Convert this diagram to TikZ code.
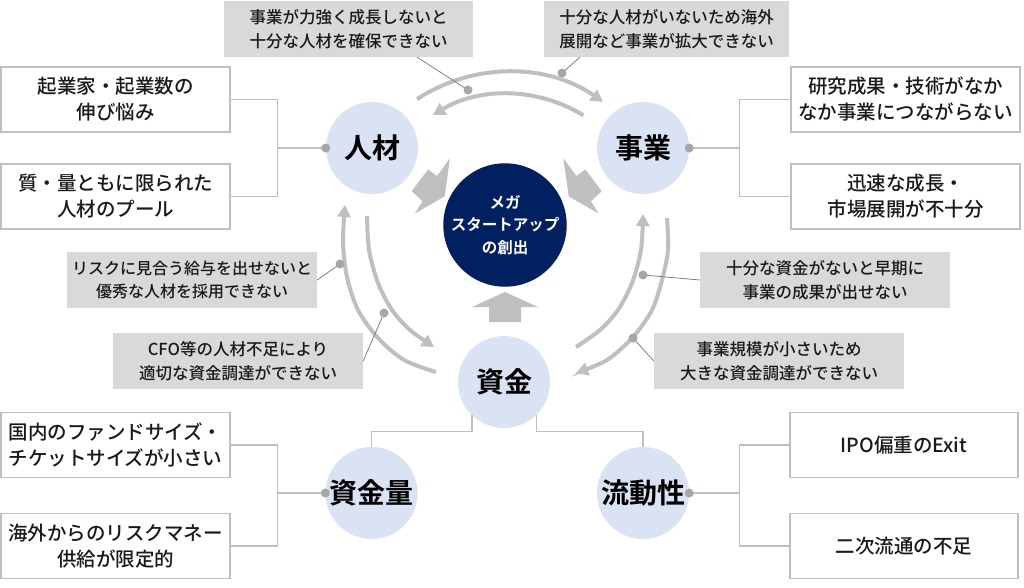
\documentclass[tikz,border=0pt]{standalone}
\usepackage{fontspec}
\setmainfont{Noto Sans CJK JP}[UprightFont=* Medium, BoldFont=* Bold]
\usetikzlibrary{arrows.meta,calc}
\definecolor{lb}{HTML}{DAE3F3}
\definecolor{navy}{HTML}{002060}
\definecolor{gbox}{HTML}{D9D9D9}
\definecolor{garrow}{HTML}{BFBFBF}
\definecolor{dotc}{HTML}{A6A6A6}
\definecolor{brk}{HTML}{BFBFBF}
\definecolor{ldr}{HTML}{808080}
\definecolor{txt}{HTML}{1A1A1A}
\tikzset{
  wbox/.style={draw=brk, line width=1.2pt, fill=white, minimum width=229pt, minimum height=65pt,
    inner sep=0pt, align=center, font=\fontsize{19.5}{26}\selectfont, text=txt},
  gbx/.style={fill=gbox, minimum width=250pt, minimum height=56pt, inner sep=0pt,
    align=center, font=\fontsize{16.5}{23.5}\selectfont, text=txt},
  circ/.style={circle, fill=lb, minimum size=92pt, inner sep=0pt,
    font=\fontsize{28}{30}\selectfont\bfseries, text=black},
  bracket/.style={draw=brk, line width=1.2pt},
  leader/.style={draw=ldr, line width=0.8pt},
  garc/.style={draw=garrow, line width=4pt, -{Triangle[width=13pt,length=12pt]}},
}
\begin{document}
\begin{tikzpicture}[x=1pt,y=-1pt]
\useasboundingbox (0,0) rectangle (1024,587);
\fill[white] (0,0) rectangle (1024,587);

% circles
\node[circ] (jinzai) at (372,148) {人材};
\node[circ] (jigyo) at (643,148) {事業};
\node[circ] (shikin) at (504,382) {資金};
\node[circ] (zkr) at (371.5,493) {資金量};
\node[circ] (ryu) at (643,493) {流動性};
\node[circle, fill=navy, minimum size=114pt, inner sep=0pt, text=white, align=center,
  font=\fontsize{15.5}{22.5}\selectfont\bfseries] (mega) at (505,225) {メガ\\スタートアップ\\の創出};

% white boxes
\node[wbox] (j1) at (115.5,99.5) {起業家・起業数の\\伸び悩み};
\node[wbox] (j2) at (115.5,196.5) {質・量ともに限られた\\人材のプール};
\node[wbox] (g1) at (905.5,99.5) {研究成果・技術がなか\\なか事業につながらない};
\node[wbox] (g2) at (905.5,196.5) {迅速な成長・\\市場展開が不十分};
\node[wbox] (z1) at (115.5,445) {国内のファンドサイズ・\\チケットサイズが小さい};
\node[wbox] (z2) at (115.5,546) {海外からのリスクマネー\\供給が限定的};
\node[wbox, minimum width=228pt] (r1) at (904,445) {IPO偏重のExit};
\node[wbox, minimum width=228pt] (r2) at (904,546) {二次流通の不足};

% grey label boxes
\node[gbx, minimum width=249pt] (t1) at (348.5,29) {事業が力強く成長しないと\\十分な人材を確保できない};
\node[gbx, minimum width=245pt] (t2) at (666.5,29) {十分な人材がいないため海外\\展開など事業が拡大できない};
\node[gbx, font=\fontsize{16}{23.5}\selectfont] (s1) at (192,280) {リスクに見合う給与を出せないと\\優秀な人材を採用できない};
\node[gbx] (s2) at (238,361) {CFO等の人材不足により\\適切な資金調達ができない};
\node[gbx] (s3) at (825,280) {十分な資金がないと早期に\\事業の成果が出せない};
\node[gbx] (s4) at (779,361) {事業規模が小さいため\\大きな資金調達ができない};

% brackets
\draw[bracket] (j1.east) -| ([xshift=-48pt]jinzai.west) |- (j2.east);
\draw[bracket] ([xshift=-48pt]jinzai.west) -- (jinzai.west);
\draw[bracket] (g1.west) -| ([xshift=50pt]jigyo.east) |- (g2.west);
\draw[bracket] ([xshift=50pt]jigyo.east) -- (jigyo.east);
\draw[bracket] (z1.east) -| ([xshift=-47.5pt]zkr.west) |- (z2.east);
\draw[bracket] ([xshift=-47.5pt]zkr.west) -- (zkr.west);
\draw[bracket] (r1.west) -| ([xshift=50pt]ryu.east) |- (r2.west);
\draw[bracket] ([xshift=50pt]ryu.east) -- (ryu.east);
\draw[bracket] (shikin.-134) -- ++(0,16) -| (zkr.north);
\draw[bracket] (shikin.-46) -- ++(0,16) -| (ryu.north);

% block arrows
\fill[garrow] (450,158.3) -- (444.7,196.3) -- (414.7,213.6) -- (422.5,201.2) -- (411.7,191.2) -- (428,169.5) -- (437,176) -- cycle;
\fill[garrow] (563.4,158.3) -- (568.7,196.3) -- (598.7,213.6) -- (590.9,201.2) -- (601.7,191.2) -- (585.4,169.5) -- (576.4,176) -- cycle;
\fill[garrow] (489,322) -- (489,307) -- (472,307) -- (505,292) -- (538,307) -- (521,307) -- (521,322) -- cycle;

% cycle arcs
\coordinate (ct) at (508,238);
\draw[garc] ($(ct)+(-123.2:166)$) arc[start angle=-123.2, end angle=-55.1, radius=166];
\draw[garc] ($(ct)+(-58.4:144)$) arc[start angle=-58.4, end angle=-121.4, radius=144];
\draw[garc] plot[smooth] coordinates {(436,372) (404,360) (378,338) (358,310) (347,277) (343,242) (345,205)};
\draw[garc] plot[smooth] coordinates {(367,216) (369,250) (378,283) (392,310) (410,330) (434,347)};
\draw[garc] plot[smooth] coordinates {(576,347) (600,330) (618,310) (632,283) (641,250) (643,214)};
\draw[garc] plot[smooth] coordinates {(667,218) (668,250) (662,280) (652,310) (633,337) (607,360) (576,373)};

% leader lines
\coordinate (d1) at (468,90);
\coordinate (d2) at (562,73);
\coordinate (d3) at (340,264);
\coordinate (d4) at (384,313);
\coordinate (d5) at (643,275);
\coordinate (d6) at (633,338);
\draw[leader] ($(t1.south west)!0.775!(t1.south east)$) -- (d1);
\draw[leader] ($(t2.south west)!0.147!(t2.south east)$) -- (d2);
\draw[leader] (s1.east) -- (d3);
\draw[leader] (s2.east) -- (d4);
\draw[leader] (s3.west) -- (d5);
\draw[leader] (s4.west) -- (d6);

% dots
\foreach \p in {d1,d2,d3,d4,d5,d6,jinzai.west,jigyo.east,zkr.west,ryu.east}
  \fill[dotc] (\p) circle[radius=4.5pt];
\end{tikzpicture}
\end{document}
